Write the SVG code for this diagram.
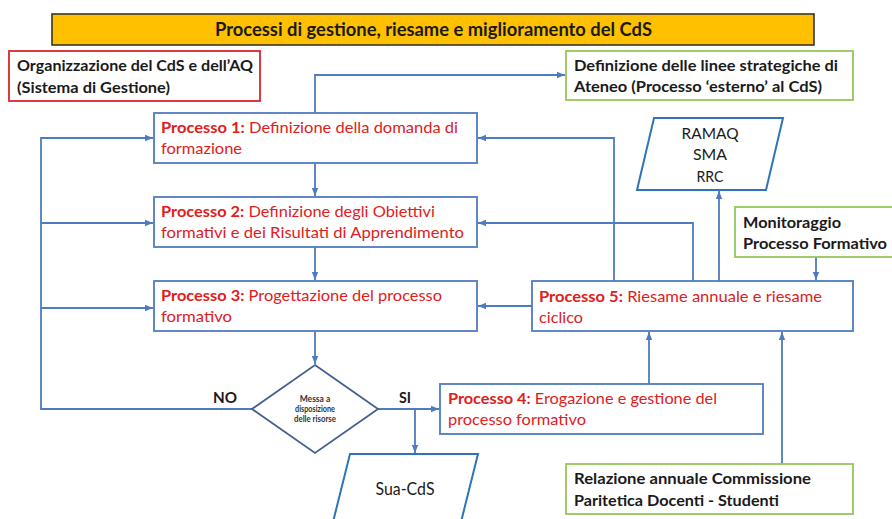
<svg xmlns="http://www.w3.org/2000/svg" width="892" height="519" viewBox="0 0 892 519">
<defs>
<style>
.t{font-family:Lato,"Liberation Sans",sans-serif;font-size:16px;fill:#1a1a1a}
.b{font-weight:bold}
.r{fill:#e0201c}
.s{font-size:8.5px;fill:#333}
.box{fill:#fff;stroke:#4f7bc0;stroke-width:1.8}
.gbox{fill:#fff;stroke:#97c65a;stroke-width:1.8}
.rbox{fill:#fff;stroke:#d8262b;stroke-width:1.8}
.par{fill:#fff;stroke:#2f74b8;stroke-width:2}
.c{fill:none;stroke:#4f7bc0;stroke-width:1.8}
</style>
<marker id="ah" viewBox="0 0 8 8" refX="8" refY="4" markerWidth="8" markerHeight="8" markerUnits="userSpaceOnUse" orient="auto">
<path d="M0,0.8 L8,4 L0,7.2 Z" fill="#4f7bc0"/>
</marker>
</defs>
<rect width="892" height="519" fill="#fff"/>

<g id="title">
<rect x="52" y="14" width="762" height="31" fill="#ffc000" stroke="#2a2a2a" stroke-width="1.5"/>
<text class="t b" x="433.5" y="36" style="font-size:19px" text-anchor="middle" textLength="437" lengthAdjust="spacingAndGlyphs">Processi di gestione, riesame e miglioramento del CdS</text>
</g>

<g id="connectors">
<polyline class="c" points="315,113 315,75 565,75" marker-end="url(#ah)"/>
<line class="c" x1="315" y1="163" x2="315" y2="196" marker-end="url(#ah)"/>
<line class="c" x1="315" y1="247" x2="315" y2="280" marker-end="url(#ah)"/>
<line class="c" x1="315" y1="331" x2="315" y2="364" marker-end="url(#ah)"/>
<polyline class="c" points="252,409 41,409 41,138 153,138" marker-end="url(#ah)"/>
<line class="c" x1="41" y1="223" x2="153" y2="223" marker-end="url(#ah)"/>
<line class="c" x1="41" y1="308" x2="153" y2="308" marker-end="url(#ah)"/>
<line class="c" x1="378" y1="409" x2="439" y2="409" marker-end="url(#ah)"/>
<line class="c" x1="415" y1="409" x2="415" y2="453" marker-end="url(#ah)"/>
<line class="c" x1="532" y1="306" x2="478" y2="306" marker-end="url(#ah)"/>
<polyline class="c" points="614,281 614,138 478,138" marker-end="url(#ah)"/>
<polyline class="c" points="693,281 693,223 478,223" marker-end="url(#ah)"/>
<line class="c" x1="719" y1="281" x2="719" y2="191" marker-end="url(#ah)"/>
<line class="c" x1="816" y1="257" x2="816" y2="280" marker-end="url(#ah)"/>
<line class="c" x1="649" y1="384" x2="649" y2="332" marker-end="url(#ah)"/>
<line class="c" x1="782" y1="464" x2="782" y2="332" marker-end="url(#ah)"/>
</g>

<g id="organizzazione">
<rect class="rbox" x="9" y="51" width="251" height="50"/>
<text class="t b" x="17" y="71" textLength="236" lengthAdjust="spacingAndGlyphs">Organizzazione del CdS e dell’AQ</text>
<text class="t b" x="17" y="93" textLength="153" lengthAdjust="spacingAndGlyphs">(Sistema di Gestione)</text>
</g>

<g id="linee-strategiche">
<rect class="gbox" x="566" y="51" width="287" height="49"/>
<text class="t b" x="574" y="71" textLength="264" lengthAdjust="spacingAndGlyphs">Definizione delle linee strategiche di</text>
<text class="t b" x="574" y="92" textLength="248" lengthAdjust="spacingAndGlyphs">Ateneo (Processo ‘esterno’ al CdS)</text>
</g>

<g id="processo1">
<rect class="box" x="154" y="113" width="323" height="50"/>
<text class="t r" x="161" y="133" textLength="297" lengthAdjust="spacingAndGlyphs"><tspan class="b">Processo 1:</tspan> Definizione della domanda di</text>
<text class="t r" x="161" y="154" textLength="81" lengthAdjust="spacingAndGlyphs">formazione</text>
</g>

<g id="processo2">
<rect class="box" x="154" y="197" width="323" height="50"/>
<text class="t r" x="161" y="217" textLength="274" lengthAdjust="spacingAndGlyphs"><tspan class="b">Processo 2:</tspan> Definizione degli Obiettivi</text>
<text class="t r" x="161" y="238" textLength="303" lengthAdjust="spacingAndGlyphs">formativi e dei Risultati di Apprendimento</text>
</g>

<g id="processo3">
<rect class="box" x="154" y="281" width="323" height="50"/>
<text class="t r" x="161" y="301" textLength="281" lengthAdjust="spacingAndGlyphs"><tspan class="b">Processo 3:</tspan> Progettazione del processo</text>
<text class="t r" x="161" y="322" textLength="71" lengthAdjust="spacingAndGlyphs">formativo</text>
</g>

<g id="ramaq">
<polygon class="par" points="654,118 783,118 766,190 637,190"/>
<text class="t" x="710" y="139" text-anchor="middle" textLength="57" lengthAdjust="spacingAndGlyphs">RAMAQ</text>
<text class="t" x="710" y="160" text-anchor="middle" textLength="34" lengthAdjust="spacingAndGlyphs">SMA</text>
<text class="t" x="710" y="182" text-anchor="middle" textLength="27" lengthAdjust="spacingAndGlyphs">RRC</text>
</g>

<g id="monitoraggio">
<rect class="gbox" x="735" y="207" width="160" height="50"/>
<text class="t b" x="743" y="228" textLength="98" lengthAdjust="spacingAndGlyphs">Monitoraggio</text>
<text class="t b" x="743" y="249" textLength="144" lengthAdjust="spacingAndGlyphs">Processo Formativo</text>
</g>

<g id="processo5">
<rect class="box" x="532" y="281" width="321" height="50"/>
<text class="t r" x="539" y="302" textLength="283" lengthAdjust="spacingAndGlyphs"><tspan class="b">Processo 5:</tspan> Riesame annuale e riesame</text>
<text class="t r" x="539" y="323" textLength="44" lengthAdjust="spacingAndGlyphs">ciclico</text>
</g>

<g id="decisione">
<polygon points="315,365 378,409 315,453 252,409" fill="#fff" stroke="#44608f" stroke-width="1.8"/>
<text class="t b s" x="315" y="402" text-anchor="middle">Messa a</text>
<text class="t b s" x="315" y="412" text-anchor="middle" textLength="40" lengthAdjust="spacingAndGlyphs">disposizione</text>
<text class="t b s" x="315" y="422" text-anchor="middle" textLength="42" lengthAdjust="spacingAndGlyphs">delle risorse</text>
</g>

<g id="labels">
<text class="t b" x="213" y="403" textLength="24" lengthAdjust="spacingAndGlyphs">NO</text>
<text class="t b" x="399" y="403" textLength="12" lengthAdjust="spacingAndGlyphs">SI</text>
</g>

<g id="processo4">
<rect class="box" x="440" y="384" width="323" height="50"/>
<text class="t r" x="448" y="404" textLength="269" lengthAdjust="spacingAndGlyphs"><tspan class="b">Processo 4:</tspan> Erogazione e gestione del</text>
<text class="t r" x="448" y="425" textLength="138" lengthAdjust="spacingAndGlyphs">processo formativo</text>
</g>

<g id="sua-cds">
<polygon class="par" points="350,454 478,454 458,534 330,534"/>
<text class="t" x="405" y="495" style="font-size:17.5px" text-anchor="middle" textLength="59" lengthAdjust="spacingAndGlyphs">Sua-CdS</text>
</g>

<g id="relazione">
<rect class="gbox" x="566" y="464" width="287" height="50"/>
<text class="t b" x="574" y="484" textLength="237" lengthAdjust="spacingAndGlyphs">Relazione annuale Commissione</text>
<text class="t b" x="574" y="506" textLength="205" lengthAdjust="spacingAndGlyphs">Paritetica Docenti - Studenti</text>
</g>
</svg>
